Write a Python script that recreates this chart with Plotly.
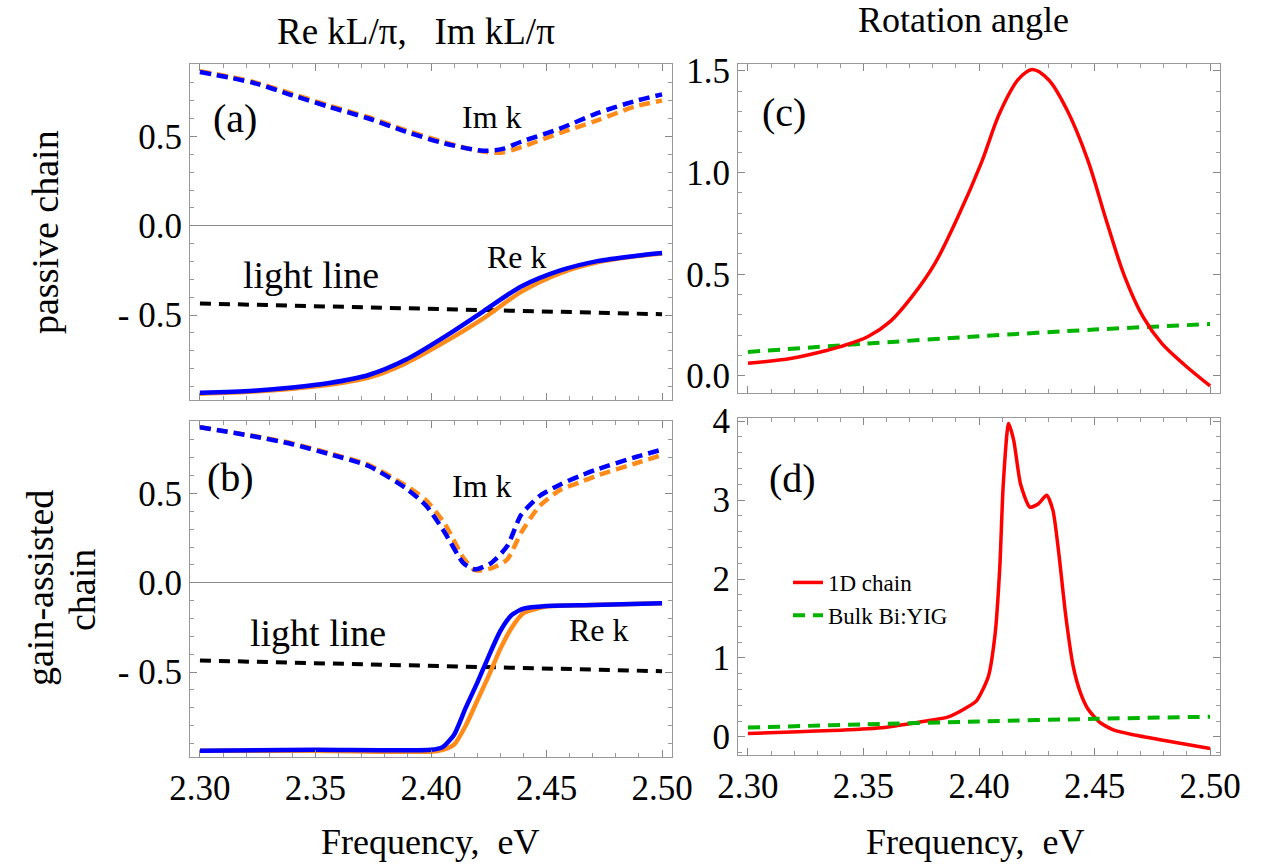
import plotly.graph_objects as go

# ---------------- data ----------------
# panel (a): passive chain
freq_a_im = [2.30, 2.323, 2.34, 2.356, 2.373, 2.389, 2.406, 2.4225, 2.431, 2.439, 2.456, 2.472, 2.489, 2.50]
imk_a_blue = [0.86, 0.80, 0.73, 0.665, 0.60, 0.527, 0.46, 0.42, 0.43, 0.47, 0.545, 0.63, 0.70, 0.735]
imk_a_orange = [0.865, 0.805, 0.738, 0.672, 0.607, 0.535, 0.466, 0.415, 0.41, 0.44, 0.52, 0.59, 0.67, 0.70]

freq_a_re = [2.30, 2.323, 2.34, 2.356, 2.373, 2.389, 2.406, 2.4225, 2.439, 2.456, 2.472, 2.489, 2.50]
rek_a_blue = [-0.935, -0.923, -0.905, -0.88, -0.835, -0.75, -0.62, -0.48, -0.34, -0.25, -0.198, -0.168, -0.153]
rek_a_orange = [-0.94, -0.928, -0.912, -0.89, -0.85, -0.77, -0.65, -0.52, -0.37, -0.265, -0.205, -0.17, -0.155]

light_freq = [2.30, 2.50]
light_line = [-0.435, -0.495]

# panel (b): gain-assisted chain
freq_b_im = [2.30, 2.323, 2.34, 2.356, 2.373, 2.389, 2.398, 2.406, 2.414, 2.419, 2.426, 2.433,
             2.439, 2.447, 2.456, 2.464, 2.472, 2.489, 2.50]
imk_b_blue = [0.87, 0.82, 0.775, 0.72, 0.653, 0.53, 0.43, 0.28, 0.11, 0.075, 0.11, 0.205,
              0.38, 0.485, 0.55, 0.595, 0.635, 0.705, 0.745]
imk_b_orange = [0.87, 0.822, 0.78, 0.725, 0.66, 0.545, 0.46, 0.33, 0.14, 0.07, 0.08, 0.13,
                0.28, 0.43, 0.52, 0.56, 0.60, 0.67, 0.715]

freq_b_re = [2.30, 2.35, 2.40, 2.405, 2.41, 2.415, 2.42, 2.425, 2.43, 2.435, 2.44, 2.45, 2.47, 2.50]
rek_b_blue = [-0.94, -0.935, -0.935, -0.92, -0.85, -0.70, -0.56, -0.41, -0.27, -0.18, -0.145, -0.13, -0.125, -0.115]
rek_b_orange = [-0.94, -0.94, -0.945, -0.935, -0.905, -0.80, -0.66, -0.52, -0.37, -0.25, -0.17, -0.133, -0.125, -0.115]

# panel (c): rotation angle, passive
freq_c = [2.30, 2.319, 2.335, 2.340, 2.352, 2.3615, 2.371, 2.381, 2.391, 2.401, 2.409, 2.417,
          2.423, 2.430, 2.438, 2.447, 2.455, 2.463, 2.471, 2.479, 2.489, 2.50]
rot_c = [0.062, 0.087, 0.128, 0.144, 0.194, 0.267, 0.39, 0.555, 0.785, 1.048, 1.294, 1.458,
         1.507, 1.458, 1.31, 1.064, 0.768, 0.49, 0.29, 0.161, 0.054, -0.049]

# bulk Bi:YIG
bulk_freq = [2.30, 2.35, 2.40, 2.45, 2.50]
bulk_rot = [0.118, 0.158, 0.195, 0.228, 0.255]

# panel (d): rotation angle, gain-assisted
freq_d = [2.30, 2.319, 2.34, 2.359, 2.375, 2.3864, 2.394, 2.399, 2.404, 2.407, 2.409, 2.4105,
          2.4128, 2.415, 2.418, 2.422, 2.4256, 2.4293, 2.432, 2.4344, 2.4376, 2.4408, 2.444,
          2.447, 2.452, 2.4584, 2.468, 2.479, 2.50]
rot_d = [0.042, 0.063, 0.084, 0.118, 0.19, 0.25, 0.36, 0.46, 0.76, 1.31, 2.15, 3.2,
         3.97, 3.76, 3.2, 2.91, 2.95, 3.06, 2.87, 2.36, 1.52, 0.89, 0.55,
         0.36, 0.19, 0.084, 0.02, -0.04, -0.148]

x_ticks = [2.30, 2.35, 2.40, 2.45, 2.50]
k_ticks = [-0.5, 0.0, 0.5]
k_ticklabels = ["- 0.5", "0.0", "0.5"]
c_ticks = [0.0, 0.5, 1.0, 1.5]
c_ticklabels = ["0.0", "0.5", "1.0", "1.5"]
d_ticks = [0, 1, 2, 3, 4]
d_ticklabels = ["0", "1", "2", "3", "4"]

# ---------------- styling ----------------
W, H = 1261, 867
FONT = "Liberation Serif, 'Times New Roman', serif"
BLUE = "#0000FF"
ORANGE = "#FF8C1A"
RED = "#FF0000"
GREEN = "#00B400"


def px(x):
    return x / W


def py(y):
    return 1 - y / H


fig = go.Figure()


def add(x, y, xa, ya, color, width, dash=None, name=None, legend=False, smooth=0.8):
    fig.add_trace(go.Scatter(
        x=x, y=y, xaxis=xa, yaxis=ya, mode="lines", name=name, showlegend=legend,
        line=dict(color=color, width=width, dash=dash, shape="spline", smoothing=smooth),
        hoverinfo="skip"))


# (a)
add(light_freq, light_line, "x", "y", "black", 4, "11px,8px")
add(freq_a_im, imk_a_orange, "x", "y", ORANGE, 4.5, "11px,6px")
add(freq_a_im, imk_a_blue, "x", "y", BLUE, 4.5, "11px,6px")
add(freq_a_re, rek_a_orange, "x", "y", ORANGE, 4.5)
add(freq_a_re, rek_a_blue, "x", "y", BLUE, 4.5)
# (b)
add(light_freq, light_line, "x2", "y2", "black", 4, "11px,8px")
add(freq_b_im, imk_b_orange, "x2", "y2", ORANGE, 4.5, "11px,6px", smooth=0.6)
add(freq_b_im, imk_b_blue, "x2", "y2", BLUE, 4.5, "11px,6px", smooth=0.6)
add(freq_b_re, rek_b_orange, "x2", "y2", ORANGE, 4.5, smooth=0.6)
add(freq_b_re, rek_b_blue, "x2", "y2", BLUE, 4.5, smooth=0.6)
# (c)
add(bulk_freq, bulk_rot, "x3", "y3", GREEN, 4, "12px,8px")
add(freq_c, rot_c, "x3", "y3", RED, 3.5, smooth=1.0)
# (d)
add(freq_d, rot_d, "x4", "y4", RED, 3.5, None, "1D chain", True, smooth=0.6)
add(bulk_freq, bulk_rot, "x4", "y4", GREEN, 4, "12px,8px", "Bulk Bi:YIG", True)

tickfont = dict(family=FONT, size=35, color="black")
frame = dict(showline=True, linecolor="#999999", linewidth=1, mirror="ticks",
             ticks="inside", ticklen=7, tickwidth=1, tickcolor="#888888",
             showgrid=False, tickfont=tickfont, automargin=False)

xcommon = dict(frame, range=[2.2957, 2.5043], tickvals=x_ticks, tickformat=".2f",
               zeroline=False,
               minor=dict(dtick=0.01, tick0=2.30, ticks="inside", ticklen=4,
                          tickcolor="#999999", showgrid=False))

left_dom = [px(190), px(672)]
right_dom = [px(738), px(1220)]
a_dom = [py(400), py(64)]
b_dom = [py(757), py(421)]
c_dom = [py(393), py(64)]
d_dom = [py(755), py(418)]

fig.update_layout(
    width=W, height=H, autosize=False,
    margin=dict(l=0, r=0, t=0, b=0, pad=0),
    paper_bgcolor="white", plot_bgcolor="white",
    font=dict(family=FONT, color="black"),
    xaxis=dict(xcommon, domain=left_dom, anchor="y", showticklabels=False),
    yaxis=dict(frame, domain=a_dom, anchor="x", range=[-0.975, 0.905],
               tickvals=k_ticks, ticktext=k_ticklabels,
               zeroline=True, zerolinecolor="#888888", zerolinewidth=1,
               minor=dict(dtick=0.1, tick0=0, ticks="inside", ticklen=4,
                          tickcolor="#999999", showgrid=False)),
    xaxis2=dict(xcommon, domain=left_dom, anchor="y2"),
    yaxis2=dict(frame, domain=b_dom, anchor="x2", range=[-0.975, 0.905],
                tickvals=k_ticks, ticktext=k_ticklabels,
                zeroline=True, zerolinecolor="#888888", zerolinewidth=1,
                minor=dict(dtick=0.1, tick0=0, ticks="inside", ticklen=4,
                           tickcolor="#999999", showgrid=False)),
    xaxis3=dict(xcommon, domain=right_dom, anchor="y3", showticklabels=False),
    yaxis3=dict(frame, domain=c_dom, anchor="x3", range=[-0.084, 1.534],
                tickvals=c_ticks, ticktext=c_ticklabels, zeroline=False,
                minor=dict(dtick=0.1, tick0=0, ticks="inside", ticklen=4,
                           tickcolor="#999999", showgrid=False)),
    xaxis4=dict(xcommon, domain=right_dom, anchor="y4"),
    yaxis4=dict(frame, domain=d_dom, anchor="x4", range=[-0.23, 4.04],
                tickvals=d_ticks, ticktext=d_ticklabels, zeroline=False,
                minor=dict(dtick=0.2, tick0=0, ticks="inside", ticklen=4,
                           tickcolor="#999999", showgrid=False)),
    legend=dict(x=px(788), y=py(561), xanchor="left", yanchor="top",
                bgcolor="rgba(0,0,0,0)", font=dict(family=FONT, size=23, color="black"),
                tracegroupgap=0, itemwidth=30),
)


def ann(text, x, y, size, angle=0):
    fig.add_annotation(text=text, x=px(x), y=py(y), xref="paper", yref="paper",
                       showarrow=False, xanchor="center", yanchor="middle",
                       textangle=angle, font=dict(family=FONT, size=size, color="black"))


ann("Re kL/\u03c0,&nbsp;&nbsp;&nbsp;Im kL/\u03c0", 416, 31, 37)
ann("Rotation angle", 964, 20, 36)
ann("Frequency,&nbsp;&nbsp;eV", 430, 842, 36)
ann("Frequency,&nbsp;&nbsp;eV", 975, 842, 36)
ann("passive chain", 45, 232, 38, -90)
ann("gain-assisted", 40, 588, 38, -90)
ann("chain", 82, 590, 38, -90)
ann("(a)", 235, 118, 40)
ann("(b)", 231, 477, 40)
ann("(c)", 784, 113, 40)
ann("(d)", 792, 478, 40)
ann("Im k", 492, 117, 32)
ann("Re k", 517, 257, 32)
ann("light line", 311, 275, 38)
ann("Im k", 482, 486, 32)
ann("Re k", 599, 630, 32)
ann("light line", 318, 633, 38)

fig.write_html("out.html", config={"displayModeBar": False},
               post_script="document.body.style.margin='0';")
